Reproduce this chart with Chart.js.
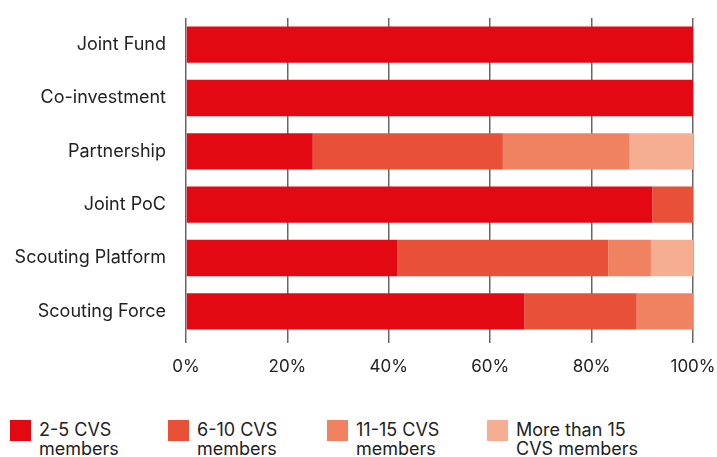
<!DOCTYPE html>
<html>
<head>
<meta charset="utf-8">
<script src="https://cdn.jsdelivr.net/npm/chart.js@4"></script>
<style>
  html, body { margin: 0; padding: 0; background: #fff; }
  body { width: 717px; height: 457px; overflow: hidden; font-family: Inter, Roboto, sans-serif; }
  #wrap { position: relative; width: 717px; height: 400px; }
  #legend { position: absolute; top: 420px; left: 0; width: 717px; height: 37px; }
  .item { position: absolute; top: 0; }
  .sw { position: absolute; left: 0; top: 0; width: 21px; height: 21px; }
  .lbl { position: absolute; left: 29px; top: 0px; font-size: 18px; line-height: 19px; color: #222; white-space: nowrap; }
</style>
</head>
<body>
<div id="wrap"><canvas id="chart" width="717" height="400"></canvas></div>
<div id="legend"></div>
<script>
// ── DATA ──────────────────────────────────────────────
const categories = ["Joint Fund", "Co-investment", "Partnership", "Joint PoC", "Scouting Platform", "Scouting Force"];
const seriesNames = [["2-5 CVS", "members"], ["6-10 CVS", "members"], ["11-15 CVS", "members"], ["More than 15", "CVS members"]];
const s2to5    = [100, 100, 25,   92, 41.7, 66.7];
const s6to10   = [0,   0,   37.5, 8,  41.6, 22.2];
const s11to15  = [0,   0,   25,   0,  8.4,  11.1];
const sOver15  = [0,   0,   12.5, 0,  8.3,  0];
const xTicks   = [0, 20, 40, 60, 80, 100];

const colors = ["#E20913", "#E85038", "#F08262", "#F6AE93"];
const legendLeft = [10, 168, 327, 487];

const seriesData = [s2to5, s6to10, s11to15, sOver15];

/* ── CHART ─────────────────────────────────────────── */
const ctx = document.getElementById("chart").getContext("2d");
new Chart(ctx, {
  type: "bar",
  data: {
    labels: categories,
    datasets: seriesData.map((d, i) => ({
      label: seriesNames[i].join(" "),
      data: d,
      backgroundColor: colors[i],
      borderWidth: 0,
      categoryPercentage: 1,
      barPercentage: 0.68
    }))
  },
  options: {
    indexAxis: "y",
    responsive: false,
    animation: false,
    layout: { padding: { top: 18, right: 0, bottom: 0, left: 0 } },
    plugins: { legend: { display: false }, tooltip: { enabled: false } },
    scales: {
      x: {
        stacked: true,
        min: 0, max: 100,
        afterBuildTicks: s => { s.ticks = xTicks.map(v => ({ value: v })); },
        afterFit: s => { s.height = 62; s.paddingLeft = 0; s.paddingRight = 24; },
        border: { display: false },
        grid: { color: "#666", lineWidth: 1.5, tickLength: 5, drawOnChartArea: true },
        ticks: {
          color: "#222",
          padding: 14,
          font: { family: "Inter, Roboto, sans-serif", size: 17 },
          callback: v => v + "%"
        }
      },
      y: {
        stacked: true,
        afterFit: s => { s.width = 186; s.paddingTop = 0; s.paddingBottom = 0; },
        border: { display: false },
        grid: { display: false },
        ticks: {
          color: "#222",
          padding: 12,
          font: { family: "Inter, Roboto, sans-serif", size: 18 }
        }
      }
    }
  }
});

/* ── LEGEND ────────────────────────────────────────── */
const legend = document.getElementById("legend");
legend.innerHTML = seriesNames.map((n, i) => `
  <div class="item" style="left:${legendLeft[i]}px">
    <div class="sw" style="background:${colors[i]}"></div>
    <div class="lbl">${n[0]}<br>${n[1]}</div>
  </div>`).join("");
</script>
</body>
</html>
